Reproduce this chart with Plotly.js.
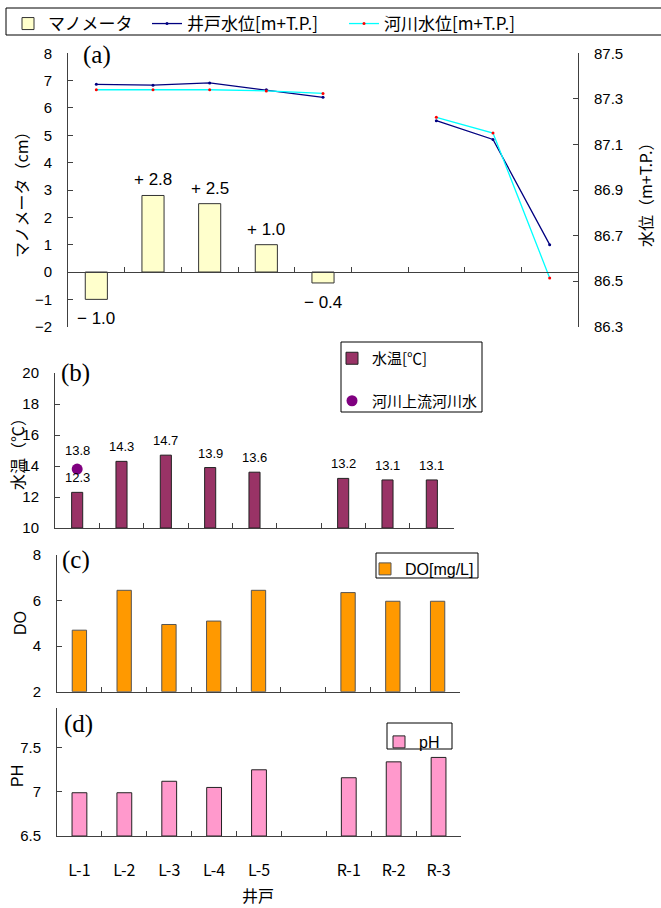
<!DOCTYPE html>
<html><head><meta charset="utf-8">
<script src="https://cdn.plot.ly/plotly-3.0.1.min.js"></script>
<style>html,body{margin:0;padding:0;background:#fff}#chart{width:661px;height:908px}</style>
</head><body><div id="chart"></div>
<script>
// ---- data ----
const categories = ['L-1','L-2','L-3','L-4','L-5',' ','R-1','R-2','R-3'];
const tickLabels = ['L-1','L-2','L-3','L-4','L-5','','R-1','R-2','R-3'];
const manometer = [-1.0, 2.8, 2.5, 1.0, -0.4, null, null, null, null];
const wellLevel = [87.364, 87.360, 87.370, 87.340, 87.307, null, 87.204, 87.122, 86.660];
const riverLevel = [87.340, 87.340, 87.340, 87.335, 87.324, null, 87.219, 87.150, 86.514];
const waterTemp = [12.3, 14.3, 14.7, 13.9, 13.6, null, 13.2, 13.1, 13.1];
const upstreamCat = ['L-1'];
const upstreamTemp = [13.8];
const doValues = [4.7, 6.45, 4.95, 5.1, 6.45, null, 6.35, 5.97, 5.97];
const phValues = [6.99, 6.99, 7.12, 7.05, 7.25, null, 7.16, 7.34, 7.39];

// ---- layout helpers ----
const W = 661, H = 908;
const fx = p => p / W;
const fy = p => 1 - p / H;
const JP = 'Noto Sans CJK JP, sans-serif';
const AR = 'Liberation Sans, Arial, sans-serif';
const AX = '#404040';

const dA = {x:[68,578], y:[53.3,326.7]};
const dB = {x:[55,454], y:[373,528]};
const dC = {x:[57,460], y:[555,691.7]};
const dD = {x:[57,461], y:[708,836]};
const rangeA = [-2, 8];
const dom = d => ({x:[fx(d.x[0]), fx(d.x[1])], y:[fy(d.y[1]), fy(d.y[0])]});
const A = dom(dA), B = dom(dB), C = dom(dC), D = dom(dD);
const zeroPos = A.y[0] + (0 - rangeA[0]) / (rangeA[1] - rangeA[0]) * (A.y[1] - A.y[0]);

const baseX = {
  type:'category', categoryorder:'array', categoryarray: categories,
  range:[-0.5, categories.length - 0.5],
  showline:true, linecolor:AX, linewidth:1, showgrid:false, zeroline:false,
  ticks:'inside', ticklen:5, tickcolor:AX, tickson:'boundaries',
  showticklabels:false, fixedrange:true
};
const baseY = {
  showline:true, linecolor:AX, linewidth:1, showgrid:false, zeroline:false,
  ticks:'inside', ticklen:5, tickcolor:AX,
  tickfont:{family:AR, size:15, color:'#000'}, ticklabelstandoff:12, fixedrange:true
};

const traces = [
  {type:'bar', x:categories, y:manometer, xaxis:'x', yaxis:'y', name:'マノメータ',
   width:0.39, marker:{color:'#FFFFCC', line:{color:'#333', width:1}}, legend:'legend'},
  {type:'scatter', mode:'lines+markers', x:categories, y:wellLevel, xaxis:'x', yaxis:'y2',
   name:'井戸水位[m+T.P.]', line:{color:'#000080', width:1.3}, marker:{color:'#000080', size:3},
   connectgaps:false, legend:'legend2'},
  {type:'scatter', mode:'lines+markers', x:categories, y:riverLevel, xaxis:'x', yaxis:'y2',
   name:'河川水位[m+T.P.]', line:{color:'#00FFFF', width:1.3}, marker:{color:'#FF0000', size:3},
   connectgaps:false, legend:'legend3'},
  {type:'bar', x:categories, y:waterTemp, xaxis:'x2', yaxis:'y3', name:'水温[℃]', base:10,
   width:0.25, marker:{color:'#993366', line:{color:'#222', width:1}}, legend:'legend4', legendgroup:'g1'},
  {type:'scatter', mode:'markers', x:upstreamCat, y:upstreamTemp, xaxis:'x2', yaxis:'y3',
   name:'河川上流河川水', marker:{color:'#800080', size:11}, legend:'legend4', legendgroup:'g2'},
  {type:'bar', x:categories, y:doValues, xaxis:'x3', yaxis:'y4', name:'DO[mg/L]', base:2,
   width:0.32, marker:{color:'#FF9900', line:{color:'#555', width:1}}, legend:'legend5'},
  {type:'bar', x:categories, y:phValues, xaxis:'x4', yaxis:'y5', name:'pH', base:6.5,
   width:0.33, marker:{color:'#FF99CC', line:{color:'#222', width:1}}, legend:'legend6'}
];
// bars drawn from a base: convert the top values to heights above the base
traces[3].y = waterTemp.map(v => v == null ? null : v - 10);
traces[5].y = doValues.map(v => v == null ? null : v - 2);
traces[6].y = phValues.map(v => v == null ? null : v - 6.5);

const annotations = [];
const paperText = (text, x, y, font, extra) => annotations.push(Object.assign({
  xref:'paper', yref:'paper', x:fx(x), y:fy(y), text, showarrow:false,
  xanchor:'center', yanchor:'middle', font}, extra || {}));

// panel labels
const serif = {family:'Liberation Serif, Times New Roman, serif', size:25, color:'#000'};
paperText('(a)', 97, 55, serif);
paperText('(b)', 75, 373, serif);
paperText('(c)', 76, 560, serif);
paperText('(d)', 78, 724, serif);
// axis titles
paperText('マノメータ（cm）', 21, 191, {family:JP, size:16, color:'#000'}, {textangle:-90});
paperText('水位（m+T.P.）', 645, 191, {family:JP, size:16, color:'#000'}, {textangle:-90});
paperText('水温（℃）', 17, 450, {family:JP, size:16, color:'#000'}, {textangle:-90});
paperText('DO', 20, 623, {family:AR, size:16, color:'#000'}, {textangle:-90});
paperText('PH', 17, 776, {family:AR, size:16, color:'#000'}, {textangle:-90});
paperText('井戸', 258, 895, {family:JP, size:16, color:'#000'});

// manometer value labels
manometer.forEach((v, i) => {
  if (v == null) return;
  const txt = (v > 0 ? '+ ' : '− ') + Math.abs(v).toFixed(1);
  annotations.push({xref:'x', yref:'y', x:categories[i], y:v, text:txt, showarrow:false,
    xanchor:'center', yanchor: v > 0 ? 'bottom' : 'top', yshift: v > 0 ? 4 : -8,
    font:{family:AR, size:17, color:'#000'}});
});
// temperature labels
const narrow = {family:'Liberation Sans Narrow, Liberation Sans, Arial', size:13, color:'#000'};
waterTemp.forEach((v, i) => {
  if (v == null) return;
  annotations.push({xref:'x2', yref:'y3', x:categories[i], y:v, text:v.toFixed(1), showarrow:false,
    xanchor:'center', yanchor:'bottom', yshift:5, font:narrow});
});
upstreamTemp.forEach((v, i) => {
  annotations.push({xref:'x2', yref:'y3', x:upstreamCat[i], y:v, text:v.toFixed(1), showarrow:false,
    xanchor:'center', yanchor:'bottom', yshift:9, font:narrow});
});

const shapes = [
  {type:'rect', xref:'paper', yref:'paper', x0:fx(6), x1:fx(700), y0:fy(35), y1:fy(8), line:{color:'#000', width:1}, fillcolor:'rgba(0,0,0,0)'},
  {type:'rect', xref:'paper', yref:'paper', x0:fx(341), x1:fx(482), y0:fy(412), y1:fy(342), line:{color:'#000', width:1}, fillcolor:'#fff'},
  {type:'rect', xref:'paper', yref:'paper', x0:fx(376), x1:fx(478), y0:fy(578), y1:fy(553), line:{color:'#000', width:1}, fillcolor:'#fff'},
  {type:'rect', xref:'paper', yref:'paper', x0:fx(387), x1:fx(452), y0:fy(749), y1:fy(723), line:{color:'#000', width:1}, fillcolor:'#fff'}
];

const leg = (x, y, size, family, extra) => Object.assign({
  x:fx(x), y:fy(y), xanchor:'left', yanchor:'top', orientation:'v',
  bgcolor:'rgba(0,0,0,0)', borderwidth:0, font:{family, size, color:'#000'}
}, extra || {});

const layout = {
  width:W, height:H, margin:{l:0, r:0, t:0, b:0},
  paper_bgcolor:'#fff', plot_bgcolor:'rgba(0,0,0,0)', showlegend:true,
  xaxis: Object.assign({}, baseX, {domain:A.x, anchor:'free', position:zeroPos}),
  yaxis: Object.assign({}, baseY, {domain:A.y, anchor:'x', range:rangeA, dtick:1}),
  yaxis2: Object.assign({}, baseY, {domain:A.y, anchor:'x', overlaying:'y', side:'right',
          range:[86.3, 87.5], tick0:86.3, dtick:0.2, tickformat:'.1f'}),
  xaxis2: Object.assign({}, baseX, {domain:B.x, anchor:'y3'}),
  yaxis3: Object.assign({}, baseY, {domain:B.y, anchor:'x2', range:[10, 20], dtick:2}),
  xaxis3: Object.assign({}, baseX, {domain:C.x, anchor:'y4'}),
  yaxis4: Object.assign({}, baseY, {domain:C.y, anchor:'x3', range:[2, 8], dtick:2}),
  xaxis4: Object.assign({}, baseX, {domain:D.x, anchor:'y5', showticklabels:true,
          tickmode:'array', tickvals:categories, ticktext:tickLabels,
          tickfont:{family:JP, size:16, color:'#000'}, ticklabelstandoff:20}),
  yaxis5: Object.assign({}, baseY, {domain:D.y, anchor:'x4', range:[6.5, 7.95], tick0:6.5, dtick:0.5}),
  legend: leg(8, 6, 17, JP),
  legend2: leg(147, 6, 17, JP),
  legend3: leg(344, 6, 17, JP),
  legend4: leg(332, 342, 15, JP, {tracegroupgap:20}),
  legend5: leg(365, 552, 16, AR),
  legend6: leg(379, 725, 16, AR),
  annotations, shapes
};

Plotly.newPlot('chart', traces, layout, {displayModeBar:false, staticPlot:true});
</script></body></html>
